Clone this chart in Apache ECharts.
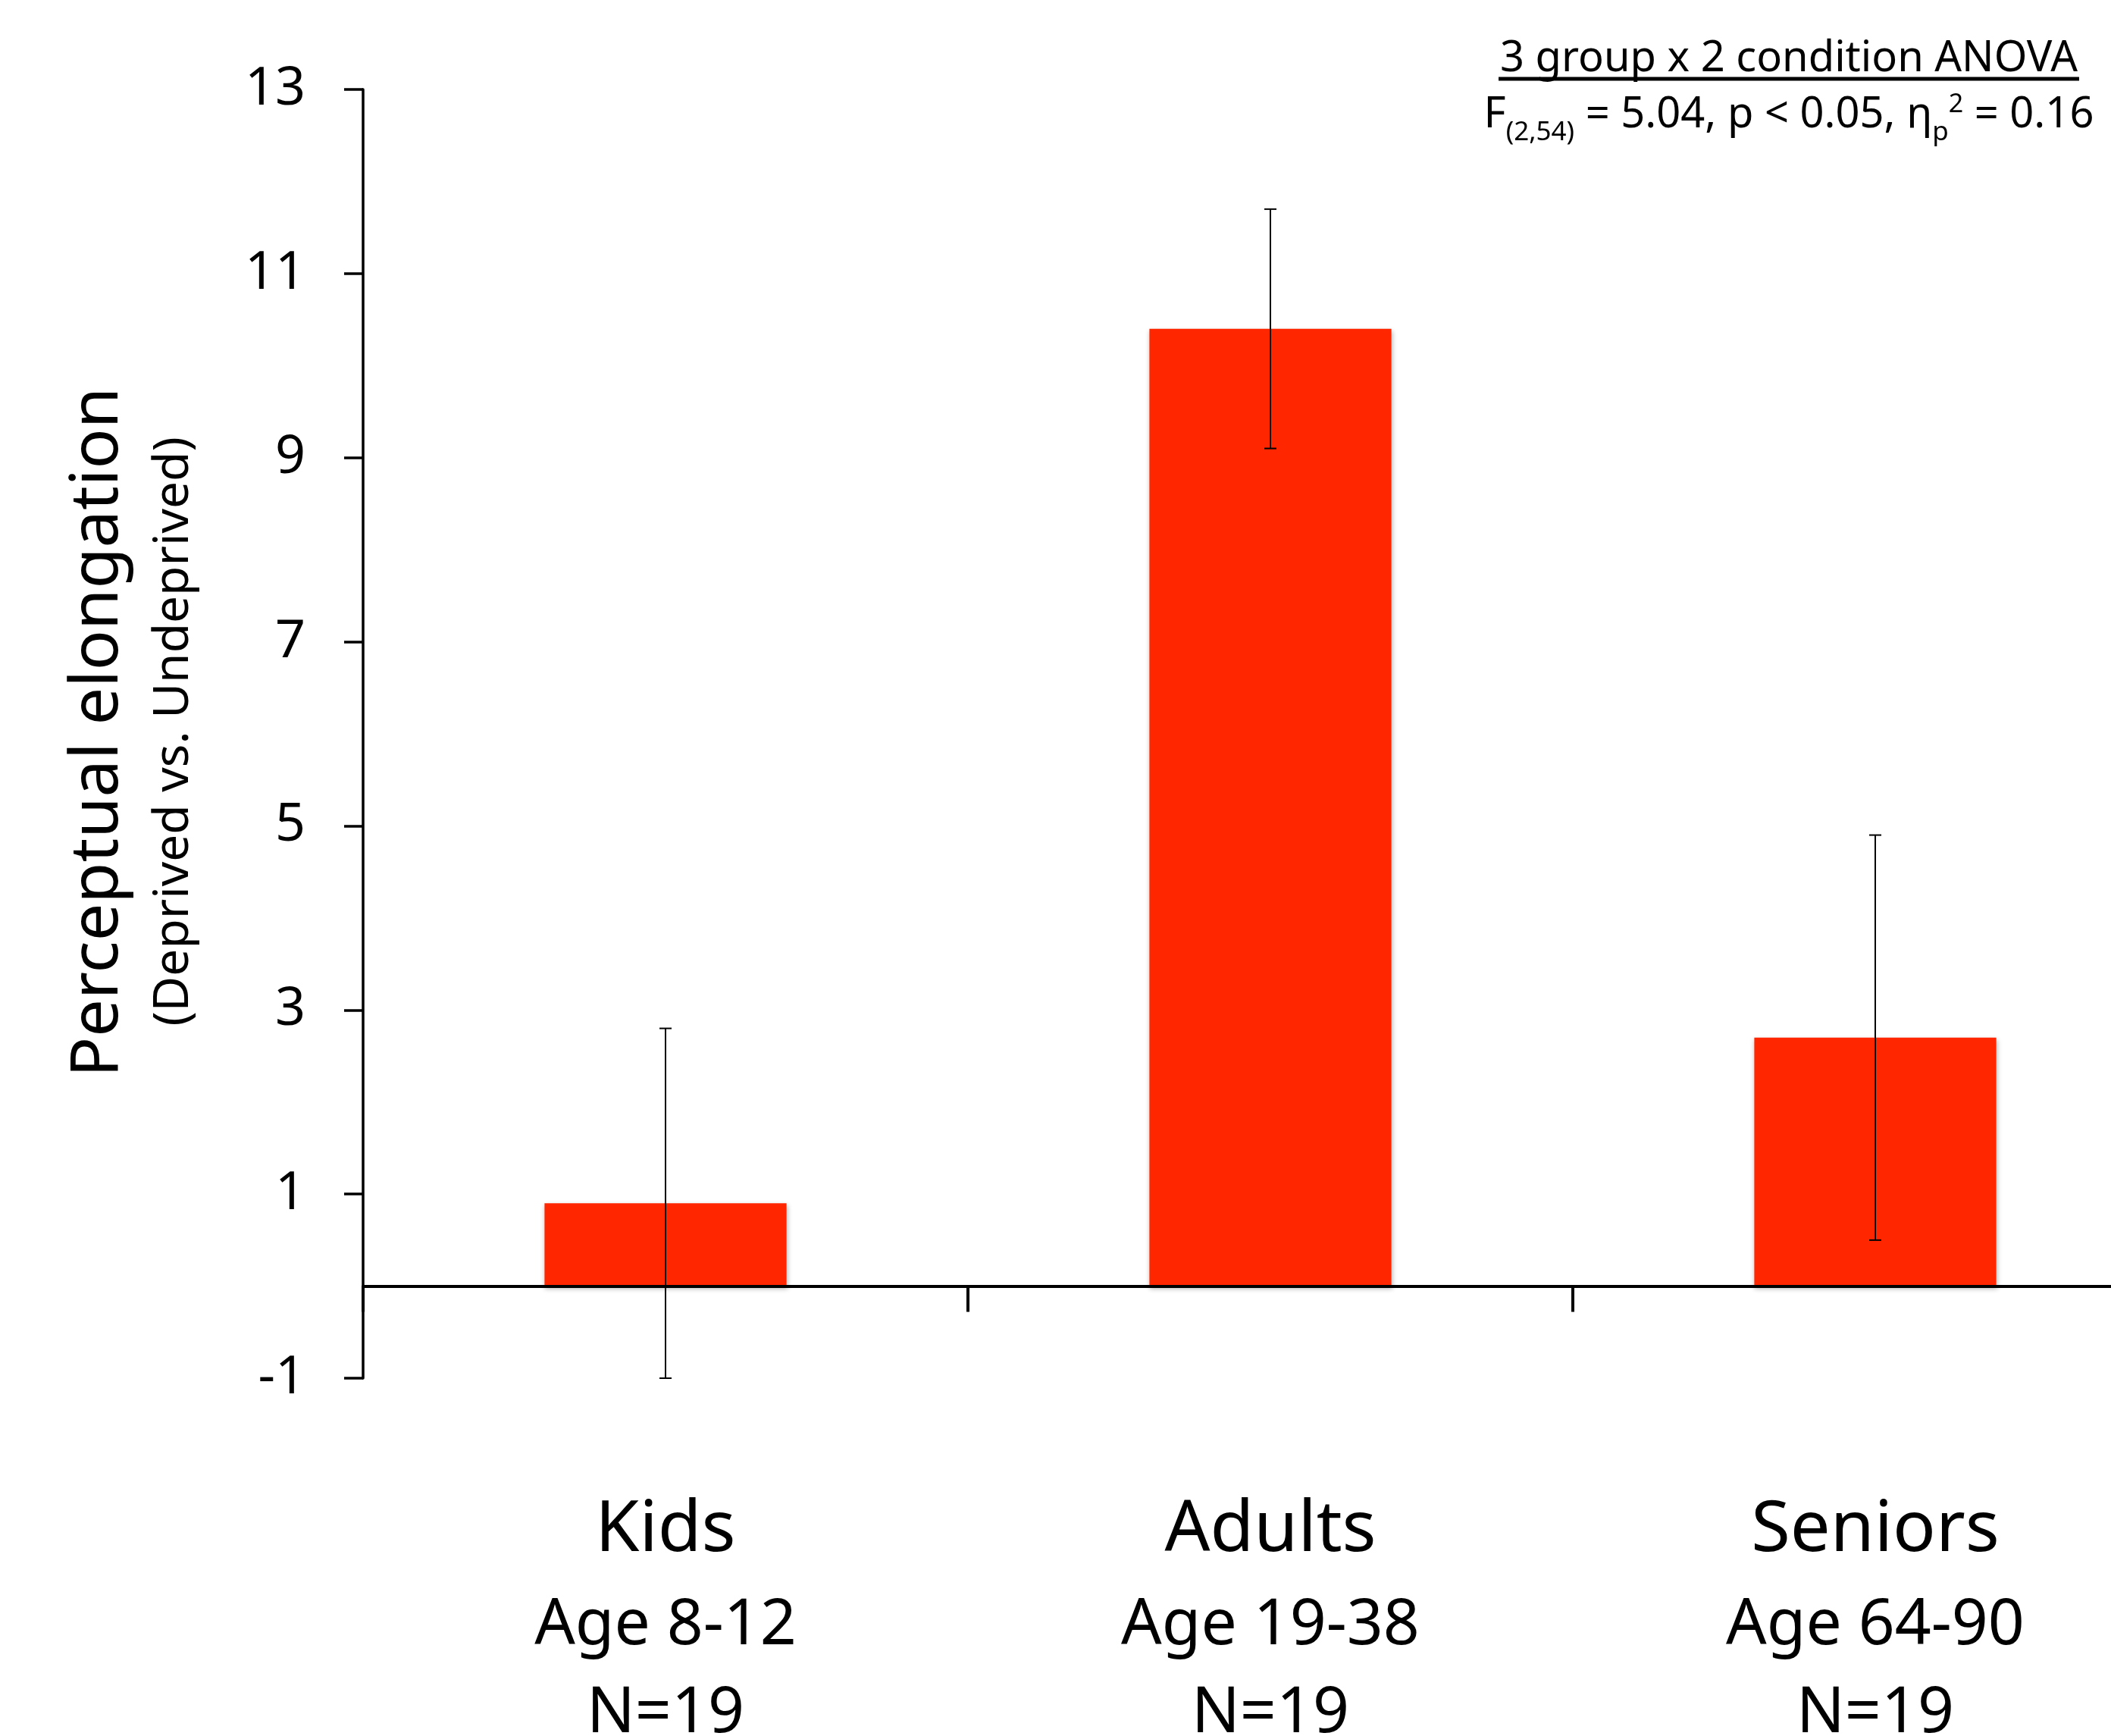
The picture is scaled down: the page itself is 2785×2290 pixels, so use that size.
<!DOCTYPE html>
<html><head><meta charset="utf-8">
<script src="https://cdn.jsdelivr.net/npm/echarts@6/dist/echarts.min.js"></script>
<style>html,body{margin:0;padding:0;background:#fff}#chart{width:2785px;height:2290px}</style>
</head><body><div id="chart"></div>
<script>
// ---- data ----
const categories = ['Kids', 'Adults', 'Seniors'];
const ageRanges = ['Age 8-12', 'Age 19-38', 'Age 64-90'];
const sampleSizes = ['N=19', 'N=19', 'N=19'];
const meanElongation = [0.9, 10.4, 2.7];
const errorHalfWidth = [1.9, 1.3, 2.2];
const yMin = -1, yMax = 13, yInterval = 2;
const yTitle = 'Perceptual elongation';
const ySubtitle = '(Deprived vs. Undeprived)';
const statsHeading = '3 group x 2 condition ANOVA';
const statsPieces = [
  ['F', 'main'], ['(2,54)', 'sub'], [' = 5.04, p < 0.05, η', 'main'],
  ['p', 'sub'], ['2', 'sup'], [' = 0.16', 'main']
];

// ---- styling ----
const FONT = 'Noto Sans';
const BAR_COLOR = '#FF2600';
const mctx = document.createElement('canvas').getContext('2d');
function textWidth(str, size) { mctx.font = 'normal normal ' + size + 'px ' + FONT; return mctx.measureText(str).width; }
const K = 0.27; // baseline offset from canvas 'middle' (in em)

// stats annotation pieces
const pieceStyle = { main: { size: 56, baseline: 167 }, sub: { size: 35, baseline: 184 }, sup: { size: 34, baseline: 147 } };
const statsCenterX = 2360;
const totalW = statsPieces.reduce((s, p) => s + textWidth(p[0], pieceStyle[p[1]].size), 0);
let curX = statsCenterX - totalW / 2;
const statsChildren = statsPieces.map(p => {
  const st = pieceStyle[p[1]];
  const el = { type: 'text', x: curX, y: st.baseline - K * st.size,
    style: { text: p[0], fontSize: st.size, fontFamily: FONT, fill: '#000', textAlign: 'left', textVerticalAlign: 'middle' } };
  curX += textWidth(p[0], st.size);
  return el;
});
const headW = textWidth(statsHeading, 56);

const chart = echarts.init(document.getElementById('chart'), null, { renderer: 'canvas' });
chart.setOption({
  backgroundColor: '#fff',
  animation: false,
  grid: { left: 479, top: 118, width: 2394, height: 1700, containLabel: false, outerBoundsMode: 'none' },
  xAxis: {
    type: 'category', data: categories, z: 5,
    axisLine: { show: true, onZero: true, lineStyle: { color: '#000', width: 4 } },
    axisTick: { show: true, length: 34, interval: 0, lineStyle: { color: '#000', width: 4 } },
    axisLabel: {
      interval: 0, margin: 134, color: '#000', fontFamily: FONT,
      formatter: (v, i) => '{g|' + v + '}\n{a|' + ageRanges[i] + '}\n{a|' + sampleSizes[i] + '}',
      rich: {
        g: { fontSize: 94, lineHeight: 135, fontFamily: FONT, color: '#000' },
        a: { fontSize: 84, lineHeight: 116, fontFamily: FONT, color: '#000' }
      }
    },
    splitLine: { show: false }
  },
  yAxis: {
    type: 'value', min: yMin, max: yMax, interval: yInterval,
    axisLine: { show: true, onZero: false, lineStyle: { color: '#000', width: 3.5 } },
    axisTick: { show: true, length: 25, lineStyle: { color: '#000', width: 3.5 } },
    axisLabel: { color: '#000', fontSize: 70, fontFamily: FONT, margin: 76, padding: [12, 0, 0, 0] },
    splitLine: { show: false }
  },
  series: [
    {
      type: 'bar', data: meanElongation, barWidth: '40%',
      itemStyle: { color: BAR_COLOR, shadowBlur: 6, shadowColor: 'rgba(0,0,0,0.3)', shadowOffsetX: 1, shadowOffsetY: 3 }
    },
    {
      type: 'custom', z: 10,
      data: categories.map((c, i) => [i, meanElongation[i] - errorHalfWidth[i], meanElongation[i] + errorHalfWidth[i]]),
      encode: { x: 0, y: [1, 2] },
      renderItem: function (params, api) {
        const lo = api.coord([api.value(0), api.value(1)]);
        const hi = api.coord([api.value(0), api.value(2)]);
        const hw = 8;
        const st = { stroke: '#000', lineWidth: 2 };
        return { type: 'group', children: [
          { type: 'line', shape: { x1: hi[0], y1: hi[1], x2: lo[0], y2: lo[1] }, style: st },
          { type: 'line', shape: { x1: hi[0] - hw, y1: hi[1], x2: hi[0] + hw, y2: hi[1] }, style: st },
          { type: 'line', shape: { x1: lo[0] - hw, y1: lo[1], x2: lo[0] + hw, y2: lo[1] }, style: st }
        ] };
      }
    }
  ],
  graphic: [
    { type: 'text', x: 154 - K * 88, y: 966, rotation: Math.PI / 2,
      style: { text: yTitle, fontSize: 88, fontFamily: FONT, fill: '#000', textAlign: 'center', textVerticalAlign: 'middle' } },
    { type: 'text', x: 247 - K * 64, y: 965, rotation: Math.PI / 2,
      style: { text: ySubtitle, fontSize: 64, fontFamily: FONT, fill: '#000', textAlign: 'center', textVerticalAlign: 'middle' } },
    { type: 'text', x: statsCenterX, y: 93 - K * 56,
      style: { text: statsHeading, fontSize: 56, fontFamily: FONT, fill: '#000', textAlign: 'center', textVerticalAlign: 'middle' } },
    { type: 'line', shape: { x1: statsCenterX - headW / 2 - 2, y1: 104, x2: statsCenterX + headW / 2 + 2, y2: 104 },
      style: { stroke: '#000', lineWidth: 5 } },
    { type: 'group', children: statsChildren }
  ]
});
</script></body></html>
